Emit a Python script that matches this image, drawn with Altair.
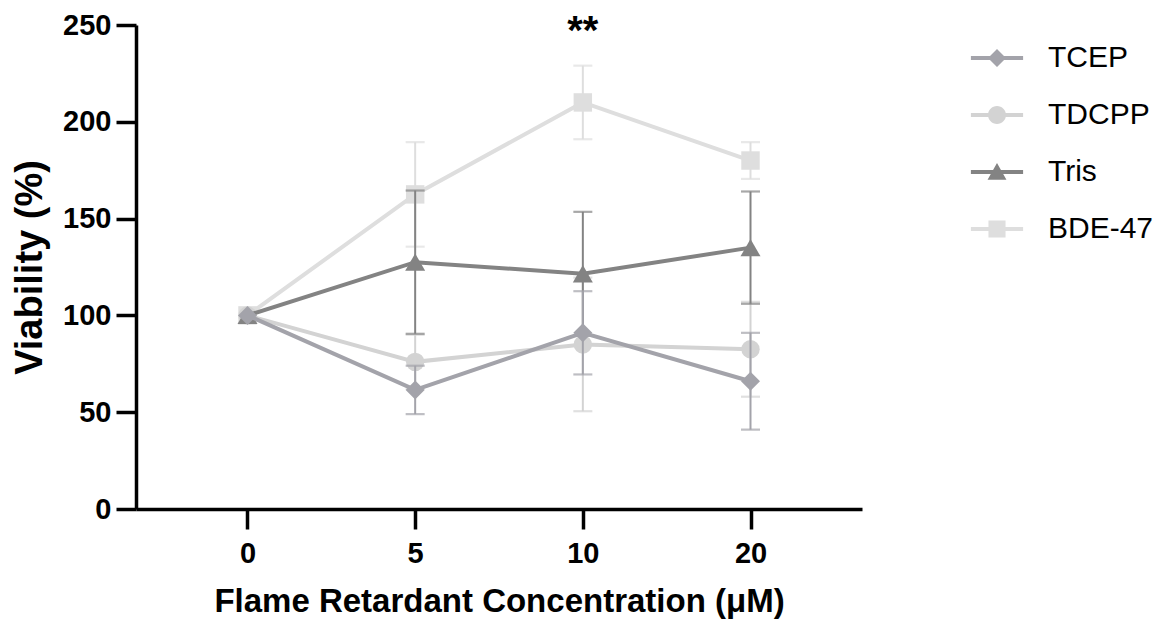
import altair as alt
import pandas as pd

# ---- data ----
concentrations = ["0", "5", "10", "20"]
series_names = ["TCEP", "TDCPP", "Tris", "BDE-47"]
tcep_mean = [100, 61.5, 91, 66]
tcep_err = [0, 12.5, 21.5, 25]
tdcpp_mean = [100, 76, 85, 82.5]
tdcpp_err = [0, 14, 34.5, 24.5]
tris_mean = [100, 127.5, 121.5, 135]
tris_err = [0, 37, 32, 29]
bde_mean = [100, 162.5, 210, 180]
bde_err = [0, 27, 19, 9.5]
annot_x = ["10"]
annot_y = [250]
annot_text = ["**"]

# ---- styles ----
colors = ["#a3a3aa", "#d3d3d3", "#838383", "#dedede"]
shapes = ["diamond", "circle", "triangle-up", "square"]
sizes = [360, 340, 400, 340]
legend_paths = [
    "M-2.9,-0.22H2.9V0.22H-2.9Z M0,-1L1,0L0,1L-1,0Z",
    "M-2.9,-0.22H2.9V0.22H-2.9Z M-1,0A1,1 0 1,1 1,0A1,1 0 1,1 -1,0Z",
    "M-2.9,-0.22H2.9V0.22H-2.9Z M0,-1L1.05,0.85L-1.05,0.85Z",
    "M-2.9,-0.22H2.9V0.22H-2.9Z M-0.95,-0.95H0.95V0.95H-0.95Z",
]
draw_order = ["BDE-47", "TDCPP", "Tris", "TCEP"]
FONT = "Liberation Sans"

rows = []
for name, means, errs in zip(series_names,
                             [tcep_mean, tdcpp_mean, tris_mean, bde_mean],
                             [tcep_err, tdcpp_err, tris_err, bde_err]):
    for c, m, e in zip(concentrations, means, errs):
        rows.append({"conc": c, "series": name, "mean": m, "err": e,
                     "lo": m - e, "hi": m + e})
df = pd.DataFrame(rows)
ann = pd.DataFrame({"conc": annot_x, "y": annot_y, "label": annot_text})

x_enc = alt.X("conc:N",
              scale=alt.Scale(type="point", domain=concentrations, padding=0.665),
              axis=alt.Axis(title="Flame Retardant Concentration (μM)", labelAngle=0,
                            labelFont=FONT, labelFontSize=29, labelFontWeight="bold",
                            labelColor="black", labelPadding=10,
                            titleFont=FONT, titleFontSize=33, titleFontWeight="bold",
                            titleColor="black", titlePadding=17,
                            domainColor="black", domainWidth=3.5,
                            tickColor="black", tickWidth=3.5, tickSize=20, grid=False))
y_scale = alt.Scale(domain=[0, 250], nice=False, zero=True)
y_enc = alt.Y("mean:Q", scale=y_scale,
              axis=alt.Axis(title="Viability (%)", values=[0, 50, 100, 150, 200, 250],
                            labelFont=FONT, labelFontSize=29, labelFontWeight="bold",
                            labelColor="black", labelPadding=5,
                            titleFont=FONT, titleFontSize=38, titleFontWeight="bold",
                            titleColor="black", titlePadding=13,
                            domainColor="black", domainWidth=3.5,
                            tickColor="black", tickWidth=3.5, tickSize=20, grid=False))

layers = []
for name in draw_order:
    i = series_names.index(name)
    col = colors[i]
    base = alt.Chart(df).transform_filter(alt.datum.series == name)
    line = base.mark_line(color=col, strokeWidth=4).encode(x=x_enc, y=y_enc)
    errs = base.transform_filter(alt.datum.err > 0)
    rule = errs.mark_rule(color=col, strokeWidth=2).encode(
        x=alt.X("conc:N"), y=alt.Y("lo:Q"), y2="hi:Q")
    cap_lo = errs.mark_tick(color=col, orient="horizontal", size=19, thickness=2.2).encode(
        x=alt.X("conc:N"), y=alt.Y("lo:Q"))
    cap_hi = errs.mark_tick(color=col, orient="horizontal", size=19, thickness=2.2).encode(
        x=alt.X("conc:N"), y=alt.Y("hi:Q"))
    pts = base.mark_point(shape=shapes[i], filled=True, size=sizes[i], color=col,
                          opacity=1).encode(x=alt.X("conc:N"), y=alt.Y("mean:Q"))
    layers += [line, rule, cap_lo, cap_hi, pts]

leg_props = dict(title=None, orient="none", legendX=846, legendY=18,
                 symbolSize=324, symbolStrokeWidth=0, symbolOpacity=1,
                 labelFont=FONT, labelFontSize=30, labelColor="black",
                 labelOffset=36, rowPadding=27, padding=0)
legend_layer = alt.Chart(df).transform_filter("false").mark_point(filled=True).encode(
    x=alt.X("conc:N"), y=alt.Y("mean:Q"),
    color=alt.Color("series:N", scale=alt.Scale(domain=series_names, range=colors),
                    legend=alt.Legend(**leg_props)),
    shape=alt.Shape("series:N", scale=alt.Scale(domain=series_names, range=legend_paths),
                    legend=alt.Legend(**leg_props)),
)

text = alt.Chart(ann).mark_text(font=FONT, fontSize=40, fontWeight="bold",
                                color="black", baseline="alphabetic", dy=19).encode(
    x=alt.X("conc:N"), y=alt.Y("y:Q"), text="label:N")

chart = alt.layer(*layers, legend_layer, text).properties(
    width=726, height=484,
    autosize=alt.AutoSizeParams(type="none"),
    padding={"left": 128, "top": 17, "right": 296, "bottom": 114},
    background="white",
).configure_view(stroke=None)

chart.save("out.html", embed_options={"renderer": "svg", "actions": False})
